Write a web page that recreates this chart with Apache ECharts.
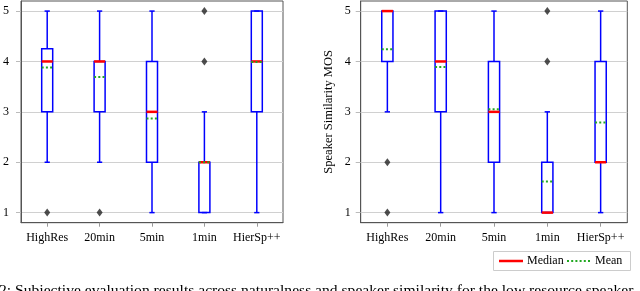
<!DOCTYPE html>
<html><head><meta charset="utf-8">
<script src="https://cdn.jsdelivr.net/npm/echarts@6/dist/echarts.min.js"></script>
<style>html,body{margin:0;padding:0;background:#fff}#c{width:640px;height:291px}</style>
</head><body><div id="c"></div>
<script>
const categories = ['HighRes','20min','5min','1min','HierSp++'];
const yTicks = [1,2,3,4,5];
// [min, q1, median, q3, max]
const natBoxes = [[2,3,4,4.25,5],[2,3,4,4,5],[1,2,3,4,5],[1,1,2,2,3],[1,3,4,5,5]];
const natMeans = [3.88,3.69,2.87,2.0,3.99];
const natOutliers = [[0,1],[1,1],[3,4],[3,5]];
const simBoxes = [[3,4,5,5,5],[1,3,4,5,5],[1,2,3,4,5],[1,1,1,2,3],[1,2,2,4,5]];
const simMeans = [4.24,3.89,3.05,1.62,2.79];
const simOutliers = [[0,2],[0,1],[3,4],[3,5]];
const yAxisName = 'Speaker Similarity MOS';
const legendNames = ['Median','Mean'];
const caption = '2: Subjective evaluation results across naturalness and speaker similarity for the low resource speaker';

const FONT = '"Liberation Serif", "Times New Roman", serif';
const BLUE = '#0000ff', RED = '#ff0000', GREEN = '#22a822';
const BOXR = 0.21;

function boxRender(params, api){
  const x = api.value(0);
  const v = [api.value(1),api.value(2),api.value(3),api.value(4),api.value(5)];
  const band = api.size([1,0])[0];
  const bw = band*BOXR, cw = band*0.1;
  const c = api.coord([x, v[0]]);
  const cx = c[0];
  const y = v.map(t => api.coord([x,t])[1]);
  const st = {stroke: BLUE, lineWidth: 1.5, fill: null};
  const ch = [];
  ch.push({type:'rect', shape:{x:cx-bw/2, y:y[3], width:bw, height:y[1]-y[3]}, style: st});
  if (y[4] < y[3]) ch.push({type:'line', shape:{x1:cx,y1:y[4],x2:cx,y2:y[3]}, style: st});
  if (y[0] > y[1]) ch.push({type:'line', shape:{x1:cx,y1:y[1],x2:cx,y2:y[0]}, style: st});
  ch.push({type:'line', shape:{x1:cx-cw/2,y1:y[4],x2:cx+cw/2,y2:y[4]}, style: st});
  ch.push({type:'line', shape:{x1:cx-cw/2,y1:y[0],x2:cx+cw/2,y2:y[0]}, style: st});
  return {type:'group', children: ch};
}
function lineRender(color, width, dash){
  return function(params, api){
    const p = api.coord([api.value(0), api.value(1)]);
    const bw = api.size([1,0])[0]*BOXR;
    return {type:'line', shape:{x1:p[0]-bw/2, y1:p[1], x2:p[0]+bw/2, y2:p[1]},
      style:{stroke: color, lineWidth: width, lineDash: dash}};
  };
}

const chart = echarts.init(document.getElementById('c'), null, {renderer:'canvas'});
const grids = [
  {left:16, top:1, width:267, height:221.7, show:true, borderColor:'#555', borderWidth:1},
  {left:360.7, top:1, width:266.6, height:221.7, show:true, borderColor:'#555', borderWidth:1}
];
function xAx(i){
  return {type:'category', gridIndex:i, data:categories, boundaryGap:true,
    axisLine:{show:true, lineStyle:{color:'#555', width:1}},
    axisTick:{show:true, alignWithLabel:true, interval:0, length:4, lineStyle:{color:'#999'}},
    axisLabel:{color:'#000', fontFamily:FONT, fontSize:12, margin:9, interval:0},
    splitLine:{show:false}};
}
function yAx(i, name, margin){
  return {type:'value', gridIndex:i, min:0.8, max:5.2,
    name: name, nameLocation:'middle', nameGap:25,
    nameTextStyle:{color:'#000', fontFamily:FONT, fontSize:12.5},
    axisLine:{show:true, lineStyle:{color:'#555', width:1}},
    axisTick:{show:true, length:5, customValues: yTicks, lineStyle:{color:'#bbb'}},
    axisLabel:{color:'#000', fontFamily:FONT, fontSize:12, margin:margin, customValues: yTicks},
    splitLine:{show:true, lineStyle:{color:'#d0d0d0', width:1}}};
}
function panel(i, boxes, means, outs){
  return [
    {type:'custom', xAxisIndex:i, yAxisIndex:i, renderItem: boxRender,
      data: boxes.map((b,k)=>[k].concat(b)), z:3},
    {type:'custom', name:legendNames[0], xAxisIndex:i, yAxisIndex:i, renderItem: lineRender(RED, 2.5, null),
      data: boxes.map((b,k)=>[k, b[2]]), z:4},
    {type:'custom', name:legendNames[1], xAxisIndex:i, yAxisIndex:i, renderItem: lineRender(GREEN, 2, [2,2.2]),
      data: means.map((m,k)=>[k, m]), z:5},
    {type:'scatter', xAxisIndex:i, yAxisIndex:i, symbol:'diamond', symbolSize:[6,8],
      itemStyle:{color:'#222'}, data: outs, z:6}
  ];
}
const lx = 493.5, ly = 251.5;
chart.setOption({
  animation:false,
  grid: grids,
  xAxis: [xAx(0), xAx(1)],
  yAxis: [yAx(0, '', 12), yAx(1, yAxisName, 10)],
  series: panel(0, natBoxes, natMeans, natOutliers).concat(panel(1, simBoxes, simMeans, simOutliers)),
  graphic: [
    {type:'rect', shape:{x:lx, y:ly, width:137, height:19}, style:{fill:'#fff', stroke:'#ccc', lineWidth:1}},
    {type:'line', shape:{x1:499, y1:261, x2:523, y2:261}, style:{stroke:RED, lineWidth:2.5}},
    {type:'text', x:527, y:261, style:{text:legendNames[0], font:'12px '+FONT, fill:'#000', verticalAlign:'middle'}},
    {type:'line', shape:{x1:567, y1:261, x2:590, y2:261}, style:{stroke:GREEN, lineWidth:2, lineDash:[2,2.2]}},
    {type:'text', x:595, y:261, style:{text:legendNames[1], font:'12px '+FONT, fill:'#000', verticalAlign:'middle'}},
    {type:'text', x:-1, y:291, style:{text:caption, font:'15.6px '+FONT, fill:'#000', verticalAlign:'middle'}}
  ]
});
</script></body></html>
